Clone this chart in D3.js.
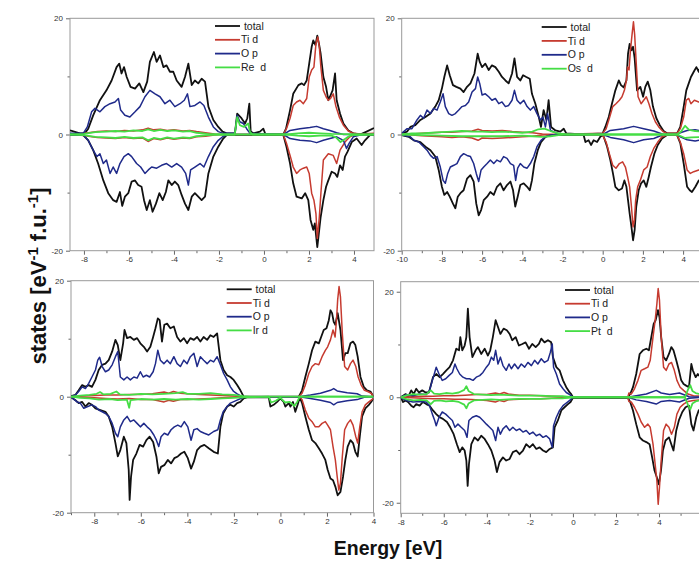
<!DOCTYPE html>
<html><head><meta charset="utf-8">
<script src="https://cdn.jsdelivr.net/npm/d3@7"></script>
<style>
body{margin:0;background:#fff}
svg{display:block;font-family:Arial,"Liberation Sans",sans-serif}
</style></head>
<body><svg id="c" width="699" height="575"></svg>
<script>
// ---------- DATA (energy eV, states) ----------
const seriesNames = [" total", "Ti d", "O p"];
const metalNames = ["Re  d", "Os  d", "Ir d", "Pt  d"];
const xTickLabelsP1 = [-8,-6,-4,-2,0,2,4];
const xTickLabelsP2 = [-10,-8,-6,-4,-2,0,2,4];
const xTickLabelsP3 = [-8,-6,-4,-2,0,2,4];
const xTickLabelsP4 = [-8,-6,-4,-2,0,2,4];
const yTickLabels = [-20,0,20];
const yMinorTicks = [-10,10];

// Panel 1 : Re
const re_total_up=[[-8.62,0.7],[-8.18,0.2],[-7.96,0.2],[-7.81,1.0],[-7.59,3.3],[-7.29,5.9],[-7.0,7.6],[-6.77,9.3],[-6.55,11.6],[-6.43,12.2],[-6.33,10.5],[-6.22,11.6],[-6.1,9.9],[-5.93,8.2],[-5.73,7.9],[-5.54,8.8],[-5.36,7.3],[-5.19,9.1],[-5.07,12.5],[-4.89,14.2],[-4.77,12.5],[-4.62,13.6],[-4.47,11.6],[-4.33,11.9],[-4.18,10.8],[-4.03,10.8],[-3.88,9.3],[-3.66,8.2],[-3.51,9.9],[-3.36,12.2],[-3.21,8.5],[-3.07,9.3],[-2.92,8.8],[-2.77,9.6],[-2.62,9.1],[-2.47,4.8],[-2.25,2.5],[-2.03,1.3],[-1.84,0.5],[-1.66,0.2],[-1.29,0.2],[-1.19,3.6],[-1.0,2.8],[-0.84,1.9],[-0.74,2.8],[-0.65,5.3],[-0.59,0.5],[-0.47,0.2],[-0.18,0.5],[-0.03,1.0],[0.07,0],[0.86,0],[0.98,1.0],[1.16,4.2],[1.3,7.0],[1.53,8.5],[1.68,8.8],[1.78,8.5],[1.9,9.3],[2.01,12.2],[2.12,15.1],[2.19,16.2],[2.29,15.4],[2.37,17.0],[2.45,15.5],[2.52,13.9],[2.64,9.9],[2.76,8.2],[2.86,5.9],[2.93,6.5],[3.05,7.6],[3.16,10.5],[3.23,5.9],[3.38,3.6],[3.53,1.9],[3.75,0.7],[3.97,0.2],[4.27,0],[4.56,0.5],[4.89,1.1]];
const re_total_dn=[[-8.62,-0.1],[-8.03,-0.1],[-7.81,-1.0],[-7.59,-2.7],[-7.37,-5.0],[-7.14,-7.9],[-6.92,-10.1],[-6.7,-11.3],[-6.55,-11.6],[-6.4,-9.9],[-6.3,-12.3],[-6.18,-10.7],[-6.03,-10.1],[-5.88,-8.1],[-5.73,-7.9],[-5.59,-8.7],[-5.44,-9.0],[-5.33,-11.3],[-5.21,-13.0],[-5.07,-11.3],[-4.95,-13.3],[-4.8,-11.9],[-4.65,-10.1],[-4.5,-11.3],[-4.36,-9.9],[-4.25,-7.9],[-4.1,-8.7],[-3.96,-8.1],[-3.81,-8.7],[-3.66,-10.4],[-3.51,-11.9],[-3.36,-13.0],[-3.21,-10.7],[-3.07,-10.1],[-2.92,-10.7],[-2.77,-11.3],[-2.62,-10.7],[-2.47,-6.7],[-2.25,-3.8],[-2.03,-2.1],[-1.81,-0.7],[-1.66,-0.1],[0.86,-0.1],[1.0,-2.1],[1.16,-5.0],[1.3,-8.4],[1.45,-10.7],[1.68,-11.0],[1.83,-10.1],[1.97,-11.3],[2.07,-14.7],[2.19,-16.4],[2.26,-15.3],[2.37,-19.4],[2.44,-17.0],[2.52,-14.2],[2.64,-11.3],[2.76,-9.0],[2.86,-7.9],[3.01,-6.4],[3.16,-6.7],[3.26,-7.3],[3.38,-5.3],[3.5,-6.1],[3.6,-3.8],[3.71,-3.0],[3.9,-1.3],[4.12,-0.7],[4.34,-1.8],[4.49,-1.0],[4.71,-0.1],[4.89,-0.1]];
const re_ti_up=[[-8.62,0],[-8.2,0.1],[-7.8,0.3],[-7.4,0.5],[-7.0,0.6],[-6.6,0.5],[-6.2,0.7],[-5.8,0.6],[-5.4,0.8],[-5.15,1.1],[-4.9,0.8],[-4.6,0.9],[-4.3,0.7],[-4.0,0.8],[-3.6,0.6],[-3.3,0.7],[-3.0,0.5],[-2.6,0.3],[-2.2,0.1],[-1.9,0],[0.86,0],[1.0,1.0],[1.16,2.8],[1.3,5.0],[1.45,5.6],[1.6,5.9],[1.75,5.3],[1.9,6.2],[2.01,9.9],[2.12,11.1],[2.22,11.6],[2.31,15.6],[2.39,16.8],[2.46,15.1],[2.53,11.6],[2.64,7.6],[2.76,6.5],[2.86,5.9],[2.96,6.2],[3.08,7.0],[3.2,4.8],[3.35,3.0],[3.53,1.6],[3.75,0.6],[3.97,0.2],[4.3,0.1],[4.89,0.2]];
const re_ti_dn=[[-8.62,0],[-8.2,-0.1],[-7.8,-0.3],[-7.4,-0.5],[-7.0,-0.6],[-6.6,-0.7],[-6.2,-0.5],[-5.8,-0.7],[-5.4,-0.6],[-5.15,-1.2],[-4.9,-0.7],[-4.6,-0.9],[-4.3,-0.6],[-4.0,-0.8],[-3.6,-0.6],[-3.3,-0.7],[-3.0,-0.4],[-2.6,-0.3],[-2.2,-0.1],[-1.9,0],[0.86,0],[1.0,-1.5],[1.16,-3.6],[1.3,-5.6],[1.45,-6.7],[1.6,-6.1],[1.75,-5.8],[1.9,-5.6],[2.01,-6.7],[2.12,-10.1],[2.22,-11.3],[2.31,-13.6],[2.37,-17.9],[2.46,-14.2],[2.53,-10.1],[2.64,-4.4],[2.86,-3.3],[3.08,-3.6],[3.23,-5.0],[3.38,-2.7],[3.6,-1.3],[3.82,-0.4],[4.0,-0.1],[4.89,0]];
const re_op_up=[[-8.62,0.2],[-8.03,0.2],[-7.85,1.3],[-7.66,3.9],[-7.51,4.5],[-7.29,3.9],[-7.07,4.8],[-6.84,5.3],[-6.62,5.6],[-6.47,6.2],[-6.37,4.2],[-6.18,3.3],[-5.96,3.0],[-5.73,3.9],[-5.51,4.8],[-5.29,6.5],[-5.07,7.6],[-4.84,7.0],[-4.62,6.5],[-4.4,5.3],[-4.18,5.9],[-3.96,4.8],[-3.73,5.3],[-3.54,5.9],[-3.4,7.0],[-3.29,4.8],[-3.07,5.0],[-2.84,5.6],[-2.67,5.0],[-2.47,3.0],[-2.25,1.3],[-2.03,0.5],[-1.81,0.2],[-1.29,0.2],[-1.19,3.3],[-1.07,2.2],[-0.92,1.9],[-0.77,1.0],[-0.62,0.2],[0.86,0],[1.16,0.7],[1.6,1.0],[2.04,1.2],[2.34,1.4],[2.64,1.0],[2.93,0.7],[3.23,0.3],[3.53,0],[4.89,0]];
const re_op_dn=[[-8.62,-0.1],[-8.03,-0.1],[-7.81,-1.0],[-7.59,-2.7],[-7.42,-3.8],[-7.29,-3.3],[-7.14,-5.0],[-7.0,-4.4],[-6.84,-6.7],[-6.7,-5.6],[-6.55,-6.7],[-6.4,-5.0],[-6.22,-3.8],[-6.03,-3.3],[-5.88,-3.8],[-5.66,-5.0],[-5.48,-5.6],[-5.29,-6.7],[-5.14,-6.1],[-4.99,-5.6],[-4.77,-5.8],[-4.55,-5.3],[-4.33,-5.0],[-4.1,-5.6],[-3.88,-5.0],[-3.66,-5.6],[-3.48,-6.7],[-3.36,-8.7],[-3.26,-6.1],[-3.07,-5.6],[-2.84,-5.0],[-2.67,-5.6],[-2.47,-3.8],[-2.25,-2.1],[-2.03,-1.0],[-1.81,-0.3],[-1.6,0],[0.86,0],[1.16,-0.7],[1.6,-1.0],[2.04,-1.1],[2.34,-1.4],[2.64,-1.0],[2.93,-0.7],[3.23,-0.4],[3.53,-1.0],[3.67,-2.4],[3.79,-1.5],[3.97,-0.4],[4.27,-0.1],[4.89,0]];
const re_m_up=[[-8.62,0],[-8.0,0.1],[-7.5,0.4],[-7.0,0.5],[-6.6,0.6],[-6.2,0.5],[-5.8,0.7],[-5.4,0.6],[-5.15,0.9],[-4.9,0.6],[-4.6,0.8],[-4.3,0.6],[-4.0,0.7],[-3.6,0.5],[-3.3,0.6],[-3.0,0.3],[-2.5,0.1],[-2.0,0],[-1.3,0],[-1.19,3.0],[-1.07,1.6],[-0.89,1.3],[-0.7,1.9],[-0.62,0.4],[-0.5,0],[1.0,0],[1.5,0.2],[2.0,0.3],[2.5,0.2],[3.0,0.1],[4.89,0]];
const re_m_dn=[[-8.62,0],[-8.0,-0.1],[-7.5,-0.4],[-7.0,-0.5],[-6.6,-0.6],[-6.2,-0.4],[-5.8,-0.6],[-5.4,-0.5],[-5.15,-1.0],[-4.9,-0.6],[-4.6,-0.8],[-4.3,-0.5],[-4.0,-0.7],[-3.6,-0.5],[-3.3,-0.6],[-3.0,-0.3],[-2.5,-0.1],[-2.0,0],[1.0,0],[1.5,-0.2],[2.0,-0.3],[2.5,-0.2],[3.0,-0.2],[3.2,-0.5],[3.4,-1.3],[3.55,-0.9],[3.7,-0.5],[3.9,-0.1],[4.89,0]];

// Panel 2 : Os
const os_total_up=[[-10,0.2],[-9.73,0.5],[-9.57,1.3],[-9.32,1.6],[-9.07,2.5],[-8.82,3.0],[-8.57,3.6],[-8.33,4.8],[-8.16,5.9],[-8.0,7.9],[-7.88,9.9],[-7.74,11.9],[-7.61,10.2],[-7.45,8.5],[-7.28,8.2],[-7.08,7.9],[-6.92,7.3],[-6.75,8.2],[-6.58,8.8],[-6.38,10.5],[-6.22,13.9],[-6.12,12.5],[-6.0,11.6],[-5.84,12.2],[-5.67,11.1],[-5.51,11.9],[-5.34,11.6],[-5.17,10.8],[-5.01,9.9],[-4.84,9.3],[-4.68,8.8],[-4.51,10.5],[-4.39,13.1],[-4.26,9.9],[-4.1,9.3],[-3.96,10.2],[-3.8,9.9],[-3.63,9.6],[-3.52,7.0],[-3.35,5.3],[-3.18,3.0],[-3.07,1.3],[-2.94,4.2],[-2.8,2.5],[-2.69,5.9],[-2.57,1.3],[-2.35,0.7],[-2.11,0.5],[-1.94,1.0],[-1.81,0.2],[-1.0,0],[0,0.2],[0.13,1.3],[0.3,3.0],[0.46,5.3],[0.63,7.6],[0.8,9.3],[0.91,8.5],[1.04,8.1],[1.18,9.3],[1.26,13.9],[1.34,15.6],[1.43,14.5],[1.51,15.1],[1.59,13.1],[1.71,7.6],[1.87,8.2],[2.01,6.5],[2.12,8.2],[2.24,9.1],[2.37,7.6],[2.5,4.8],[2.67,2.8],[2.84,1.6],[3.03,0.6],[3.2,0.2],[3.7,0.2],[3.86,1.3],[4.03,4.8],[4.16,7.6],[4.28,8.8],[4.39,9.9],[4.53,10.8],[4.66,11.6],[4.78,10.8],[4.86,11.6],[5.0,11.0]];
const os_total_dn=[[-10,-0.1],[-9.65,-0.4],[-9.4,-1.0],[-9.07,-1.3],[-8.82,-2.1],[-8.57,-2.7],[-8.33,-3.8],[-8.16,-6.1],[-8.0,-9.0],[-7.88,-10.4],[-7.74,-9.9],[-7.61,-10.7],[-7.45,-11.9],[-7.33,-12.7],[-7.21,-10.7],[-7.08,-10.1],[-6.92,-9.6],[-6.75,-7.6],[-6.58,-7.0],[-6.42,-8.1],[-6.29,-11.9],[-6.17,-13.9],[-6.05,-13.0],[-5.92,-11.3],[-5.75,-10.7],[-5.59,-9.9],[-5.42,-10.4],[-5.26,-9.0],[-5.09,-8.4],[-4.93,-9.6],[-4.76,-8.7],[-4.59,-8.1],[-4.46,-9.6],[-4.35,-12.4],[-4.23,-10.7],[-4.1,-8.7],[-3.93,-8.4],[-3.76,-9.0],[-3.63,-9.6],[-3.52,-7.9],[-3.4,-5.0],[-3.23,-2.7],[-3.07,-1.3],[-2.85,-0.4],[-2.6,-0.1],[-0.95,-0.1],[-0.86,-1.3],[-0.7,-1.0],[-0.58,-1.8],[-0.45,-1.0],[-0.28,-1.3],[-0.12,-0.4],[0,-0.1],[0.05,-0.4],[0.22,-2.1],[0.38,-4.4],[0.51,-6.7],[0.63,-9.0],[0.8,-9.6],[0.96,-9.3],[1.08,-7.9],[1.18,-9.0],[1.26,-11.3],[1.34,-13.6],[1.43,-15.9],[1.51,-18.2],[1.59,-16.4],[1.67,-12.4],[1.79,-9.6],[1.91,-8.4],[2.04,-7.9],[2.17,-9.0],[2.29,-7.3],[2.4,-5.6],[2.57,-3.3],[2.74,-1.8],[2.95,-0.7],[3.2,-0.1],[3.7,-0.1],[3.86,-1.5],[4.03,-5.0],[4.2,-9.0],[4.33,-9.6],[4.44,-9.9],[4.61,-9.0],[4.78,-7.9],[5.0,-8.0]];
const os_ti_up=[[-10,0],[-9.5,0.1],[-9.0,0.2],[-8.5,0.3],[-8.0,0.4],[-7.5,0.4],[-7.0,0.5],[-6.5,0.6],[-6.2,0.9],[-6.0,0.7],[-5.5,0.6],[-5.0,0.7],[-4.5,0.5],[-4.0,0.4],[-3.5,0.3],[-3.0,0.1],[-2.5,0],[0,0.2],[0.17,1.0],[0.33,2.8],[0.5,4.8],[0.66,5.3],[0.83,5.9],[0.96,6.5],[1.08,7.6],[1.18,9.3],[1.24,11.6],[1.31,11.1],[1.38,14.5],[1.46,17.2],[1.53,19.4],[1.59,17.2],[1.66,12.8],[1.76,6.5],[1.91,5.3],[2.04,5.9],[2.17,6.5],[2.3,5.3],[2.45,3.6],[2.62,2.2],[2.79,1.3],[3.0,0.5],[3.2,0.2],[3.7,0.2],[3.86,1.0],[4.03,3.0],[4.16,5.9],[4.28,6.2],[4.39,5.3],[4.56,5.9],[4.78,5.6],[5.0,5.5]];
const os_ti_dn=[[-10,0],[-9.5,-0.1],[-9.0,-0.2],[-8.5,-0.3],[-8.0,-0.4],[-7.5,-0.5],[-7.0,-0.4],[-6.5,-0.6],[-6.2,-1.0],[-6.0,-0.6],[-5.5,-0.7],[-5.0,-0.6],[-4.5,-0.5],[-4.0,-0.4],[-3.5,-0.3],[-3.0,-0.1],[-2.5,0],[0,-0.1],[0.17,-1.3],[0.33,-3.3],[0.5,-5.3],[0.66,-5.8],[0.83,-5.0],[0.99,-4.7],[1.13,-5.6],[1.24,-7.3],[1.34,-9.0],[1.43,-12.4],[1.51,-15.9],[1.58,-14.7],[1.64,-11.3],[1.74,-9.0],[1.87,-7.9],[2.04,-6.1],[2.21,-5.6],[2.37,-3.8],[2.54,-2.4],[2.74,-1.3],[2.95,-0.4],[3.2,-0.1],[3.7,-0.1],[3.86,-1.3],[4.03,-3.3],[4.2,-6.1],[4.36,-6.7],[4.53,-6.4],[4.78,-6.1],[5.0,-6.0]];
const os_op_up=[[-10,0.2],[-9.73,1.0],[-9.49,1.0],[-9.24,2.5],[-9.07,3.3],[-8.91,2.8],[-8.74,4.2],[-8.57,3.6],[-8.41,4.5],[-8.24,4.2],[-8.08,5.6],[-7.94,7.0],[-7.83,4.8],[-7.66,3.6],[-7.5,3.3],[-7.33,3.6],[-7.16,4.2],[-7.0,4.8],[-6.83,5.0],[-6.67,5.6],[-6.5,7.3],[-6.33,7.9],[-6.22,9.9],[-6.12,8.8],[-6.0,6.8],[-5.84,7.0],[-5.67,6.5],[-5.51,5.9],[-5.34,6.2],[-5.17,5.3],[-5.01,5.6],[-4.84,4.8],[-4.68,5.0],[-4.51,5.9],[-4.39,7.6],[-4.26,5.9],[-4.1,5.3],[-3.93,5.9],[-3.76,4.8],[-3.6,4.2],[-3.43,4.8],[-3.27,3.6],[-3.1,2.5],[-2.97,3.0],[-2.85,1.3],[-2.74,3.6],[-2.6,0.7],[-2.35,0.3],[-2.0,0],[0,0],[0.38,0.7],[1.04,1.0],[1.54,1.4],[2.04,1.0],[2.54,0.6],[3.03,0],[3.7,0],[3.86,0.3],[4.2,0.7],[4.6,0.8],[5.0,0.6]];
const os_op_dn=[[-10,-0.1],[-9.57,-0.4],[-9.4,-1.0],[-9.15,-1.3],[-8.91,-2.1],[-8.74,-2.7],[-8.57,-3.6],[-8.41,-4.1],[-8.24,-3.8],[-8.08,-5.6],[-7.94,-7.9],[-7.83,-8.4],[-7.71,-6.7],[-7.58,-5.6],[-7.41,-5.3],[-7.25,-5.0],[-7.08,-3.8],[-6.92,-3.3],[-6.75,-3.6],[-6.58,-3.8],[-6.42,-5.0],[-6.29,-6.7],[-6.17,-8.1],[-6.05,-6.1],[-5.92,-5.6],[-5.75,-5.0],[-5.59,-4.4],[-5.42,-5.0],[-5.26,-4.4],[-5.09,-4.7],[-4.93,-3.8],[-4.76,-4.1],[-4.59,-5.0],[-4.43,-5.3],[-4.33,-7.9],[-4.23,-5.8],[-4.1,-5.0],[-3.93,-5.6],[-3.76,-5.8],[-3.6,-5.0],[-3.43,-3.8],[-3.27,-2.1],[-3.07,-1.0],[-2.85,-0.4],[-2.6,-0.1],[-2.0,0],[0,0],[0.38,-0.5],[1.04,-0.9],[1.54,-1.4],[2.04,-0.9],[2.54,-0.7],[3.03,0],[3.7,0],[3.86,-0.4],[4.2,-0.9],[4.6,-1.1],[5.0,-0.9]];
const os_m_up=[[-10,0],[-9.5,0.2],[-9.0,0.2],[-8.5,0.3],[-8.0,0.4],[-7.5,0.5],[-7.0,0.6],[-6.5,0.5],[-6.0,0.5],[-5.5,0.4],[-5.0,0.5],[-4.5,0.4],[-4.0,0.3],[-3.5,0.5],[-3.2,0.9],[-2.9,1.0],[-2.6,0.6],[-2.2,0.2],[-1.8,0],[3.7,0],[3.9,0.5],[4.1,1.5],[4.3,0.8],[4.6,0.6],[5.0,0.5]];
const os_m_dn=[[-10,0],[-9.0,-0.1],[-8.0,-0.2],[-7.0,-0.3],[-6.0,-0.3],[-5.0,-0.3],[-4.0,-0.2],[-3.5,-0.3],[-3.0,-0.4],[-2.6,-0.3],[-2.2,-0.1],[-1.8,0],[3.7,0],[3.9,-0.3],[4.1,-0.6],[4.4,-0.5],[5.0,-0.4]];

// Panel 3 : Ir
const ir_total_up=[[-9,0.1],[-8.81,0.3],[-8.67,1.1],[-8.52,2.0],[-8.38,1.7],[-8.24,2.0],[-8.1,1.7],[-7.95,2.9],[-7.81,4.6],[-7.66,5.5],[-7.52,5.7],[-7.38,6.3],[-7.23,7.8],[-7.09,9.8],[-6.99,8.9],[-6.88,6.3],[-6.76,9.2],[-6.7,11.5],[-6.59,10.1],[-6.45,10.3],[-6.3,9.8],[-6.16,10.1],[-6.02,9.2],[-5.87,8.6],[-5.73,7.8],[-5.59,8.6],[-5.47,10.3],[-5.37,11.8],[-5.27,13.5],[-5.19,13.2],[-5.09,9.5],[-4.99,12.4],[-4.87,12.6],[-4.73,11.8],[-4.58,12.1],[-4.44,10.3],[-4.3,9.5],[-4.15,10.1],[-4.01,9.2],[-3.87,10.1],[-3.72,9.8],[-3.58,10.3],[-3.44,9.5],[-3.3,10.3],[-3.15,9.8],[-3.01,10.6],[-2.87,10.3],[-2.72,10.9],[-2.65,8.6],[-2.58,6.3],[-2.44,4.6],[-2.29,3.7],[-2.15,3.4],[-2.01,2.9],[-1.86,2.0],[-1.72,1.1],[-1.58,0],[0.79,0],[0.93,1.1],[1.07,3.4],[1.22,5.7],[1.36,8.0],[1.5,9.5],[1.65,9.2],[1.75,10.3],[1.86,11.5],[1.98,11.8],[2.08,13.2],[2.15,14.9],[2.22,14.4],[2.29,12.9],[2.36,12.4],[2.46,14.4],[2.58,11.5],[2.69,6.3],[2.79,7.5],[2.89,7.5],[3.01,9.2],[3.12,9.5],[3.22,8.9],[3.32,6.9],[3.44,3.4],[3.58,1.7],[3.72,1.1],[3.87,0.9],[4.0,0]];
const ir_total_dn=[[-9,-0.1],[-8.81,-0.6],[-8.67,-1.1],[-8.52,-0.9],[-8.38,-1.7],[-8.24,-1.1],[-8.1,-1.4],[-7.95,-2.0],[-7.74,-2.3],[-7.52,-2.6],[-7.38,-3.4],[-7.23,-5.2],[-7.09,-8.0],[-6.99,-10.3],[-6.88,-9.2],[-6.73,-6.9],[-6.62,-8.0],[-6.52,-12.6],[-6.48,-17.8],[-6.42,-13.8],[-6.33,-10.9],[-6.19,-9.8],[-6.05,-8.3],[-5.9,-8.6],[-5.76,-7.5],[-5.62,-6.9],[-5.47,-7.8],[-5.33,-10.3],[-5.23,-13.2],[-5.13,-12.1],[-4.99,-11.8],[-4.84,-10.9],[-4.7,-11.5],[-4.56,-10.6],[-4.41,-10.3],[-4.27,-9.8],[-4.13,-9.5],[-3.98,-10.6],[-3.84,-12.4],[-3.72,-11.2],[-3.58,-9.2],[-3.44,-8.6],[-3.27,-8.3],[-3.08,-8.9],[-2.87,-9.5],[-2.69,-9.8],[-2.58,-5.2],[-2.46,-2.9],[-2.29,-1.7],[-2.15,-1.4],[-2.01,-1.7],[-1.86,-1.1],[-1.72,-0.9],[-1.58,-0.3],[-1.44,-0.1],[-0.5,-0.1],[-0.43,-1.7],[-0.29,-1.4],[-0.14,-0.9],[0,-0.3],[0.14,-0.9],[0.21,-1.7],[0.36,-1.1],[0.43,-1.7],[0.54,-0.9],[0.64,-2.6],[0.74,-1.4],[0.83,-0.1],[0.93,-1.1],[1.07,-3.4],[1.22,-5.7],[1.36,-7.5],[1.5,-8.0],[1.65,-8.9],[1.79,-9.8],[1.93,-10.9],[2.03,-12.6],[2.15,-14.1],[2.26,-14.4],[2.36,-15.5],[2.46,-17.0],[2.58,-16.4],[2.69,-13.8],[2.79,-10.9],[2.89,-8.6],[3.01,-7.5],[3.12,-8.0],[3.22,-9.5],[3.32,-10.3],[3.41,-6.9],[3.51,-3.4],[3.65,-2.0],[3.8,-1.4],[3.9,-0.9],[4.0,-0.3]];
const ir_ti_up=[[-9,0],[-8.5,0.1],[-8.0,0.2],[-7.5,0.3],[-7.0,0.3],[-6.5,0.4],[-6.0,0.4],[-5.5,0.5],[-5.0,0.8],[-4.8,0.6],[-4.6,0.9],[-4.3,0.6],[-4.0,0.5],[-3.5,0.4],[-3.0,0.3],[-2.5,0.2],[-2.0,0.1],[-1.6,0],[0.79,0],[0.93,0.6],[1.07,2.0],[1.22,4.0],[1.36,5.2],[1.5,5.7],[1.65,5.5],[1.79,6.9],[1.93,8.0],[2.03,8.6],[2.15,9.8],[2.26,11.5],[2.35,10.3],[2.41,13.2],[2.46,16.7],[2.52,19.0],[2.58,17.2],[2.66,10.9],[2.76,5.2],[2.89,4.6],[3.01,5.7],[3.12,6.3],[3.24,5.2],[3.34,3.4],[3.47,2.0],[3.61,1.1],[3.75,0.9],[3.9,0.6],[4.0,0]];
const ir_ti_dn=[[-9,0],[-8.5,-0.1],[-8.0,-0.2],[-7.5,-0.3],[-7.0,-0.4],[-6.5,-0.3],[-6.0,-0.5],[-5.5,-0.5],[-5.0,-0.9],[-4.8,-0.6],[-4.6,-0.8],[-4.3,-0.5],[-4.0,-0.5],[-3.5,-0.4],[-3.0,-0.3],[-2.5,-0.2],[-2.0,-0.1],[-1.6,0],[0.83,0],[0.93,-0.5],[1.07,-2.3],[1.22,-3.7],[1.36,-4.3],[1.5,-5.2],[1.65,-5.2],[1.79,-4.6],[1.93,-4.3],[2.03,-4.9],[2.15,-5.7],[2.26,-8.6],[2.36,-10.9],[2.44,-13.8],[2.51,-16.1],[2.58,-14.9],[2.66,-10.3],[2.76,-5.7],[2.89,-4.6],[3.01,-4.0],[3.12,-4.9],[3.24,-6.9],[3.32,-8.0],[3.41,-5.2],[3.51,-2.6],[3.65,-1.4],[3.8,-0.9],[4.0,-0.3]];
const ir_op_up=[[-9,0],[-8.81,0.3],[-8.67,0.9],[-8.52,1.7],[-8.38,1.4],[-8.24,2.3],[-8.1,3.4],[-7.95,4.6],[-7.85,6.3],[-7.77,6.8],[-7.66,5.2],[-7.52,4.3],[-7.38,4.6],[-7.23,5.5],[-7.09,6.9],[-6.99,7.8],[-6.88,3.4],[-6.73,2.9],[-6.59,3.4],[-6.45,2.9],[-6.3,3.4],[-6.16,3.2],[-6.02,4.3],[-5.9,3.4],[-5.76,3.7],[-5.62,3.4],[-5.47,4.3],[-5.37,5.7],[-5.27,8.0],[-5.16,6.3],[-5.01,5.7],[-4.87,6.3],[-4.73,5.7],[-4.58,6.9],[-4.44,5.7],[-4.3,5.2],[-4.15,6.3],[-4.01,5.7],[-3.87,6.9],[-3.72,7.5],[-3.58,5.2],[-3.44,6.9],[-3.3,6.3],[-3.15,5.7],[-3.01,6.3],[-2.87,6.0],[-2.72,6.9],[-2.58,5.5],[-2.44,4.0],[-2.29,2.9],[-2.15,1.7],[-2.01,0.9],[-1.86,0.5],[-1.65,0],[0.79,0],[1.29,0.3],[1.72,0.6],[2.15,1.1],[2.29,1.4],[2.44,1.0],[2.87,0.7],[3.3,0.5],[3.51,0.1],[4.0,0]];
const ir_op_dn=[[-9,0],[-8.74,-0.9],[-8.6,-1.1],[-8.45,-2.0],[-8.28,-1.7],[-8.1,-1.4],[-7.95,-1.7],[-7.81,-2.3],[-7.66,-2.6],[-7.52,-2.9],[-7.38,-3.4],[-7.23,-4.6],[-7.09,-6.3],[-6.99,-6.9],[-6.88,-5.2],[-6.73,-4.0],[-6.59,-3.4],[-6.45,-4.3],[-6.3,-4.0],[-6.16,-4.6],[-6.02,-5.2],[-5.87,-4.6],[-5.73,-5.2],[-5.59,-5.7],[-5.44,-6.6],[-5.33,-7.5],[-5.23,-8.6],[-5.13,-6.9],[-4.99,-6.3],[-4.84,-6.6],[-4.7,-5.7],[-4.56,-5.2],[-4.41,-4.9],[-4.27,-5.2],[-4.13,-4.3],[-3.98,-5.2],[-3.84,-7.5],[-3.72,-5.7],[-3.58,-5.5],[-3.44,-6.0],[-3.27,-6.3],[-3.08,-6.6],[-2.87,-6.0],[-2.69,-5.7],[-2.58,-4.0],[-2.46,-2.6],[-2.29,-1.7],[-2.15,-1.1],[-1.86,-0.6],[-1.58,-0.1],[-1.4,0],[0.83,0],[1.29,-0.3],[1.72,-0.6],[2.15,-1.0],[2.29,-1.4],[2.44,-1.0],[2.87,-0.7],[3.3,-0.5],[3.6,-0.1],[4.0,0]];
const ir_m_up=[[-9,0],[-8.6,0.2],[-8.2,0.3],[-7.9,0.5],[-7.75,0.8],[-7.6,0.4],[-7.3,0.5],[-7.05,0.9],[-6.9,0.4],[-6.5,0.3],[-6.0,0.5],[-5.5,0.4],[-5.0,0.5],[-4.5,0.6],[-4.2,0.8],[-4.0,0.5],[-3.5,0.5],[-3.0,0.6],[-2.5,0.4],[-2.0,0.3],[-1.6,0.1],[-1.3,0],[4.0,0]];
const ir_m_dn=[[-9,0],[-8.6,-0.2],[-8.2,-0.3],[-7.8,-0.5],[-7.3,-0.4],[-7.0,-0.6],[-6.6,-0.5],[-6.5,-1.9],[-6.44,-0.6],[-6.0,-0.4],[-5.5,-0.5],[-5.0,-0.4],[-4.5,-0.5],[-4.0,-0.4],[-3.5,-0.5],[-3.0,-0.4],[-2.5,-0.3],[-2.0,-0.2],[-1.6,-0.1],[-0.5,0],[-0.4,-1.0],[-0.2,-0.7],[0,-0.2],[0.2,-1.0],[0.4,-0.9],[0.6,-1.6],[0.72,-0.9],[0.83,0],[4.0,0]];

// Panel 4 : Pt
const pt_total_up=[[-8,0],[-7.89,0.3],[-7.77,0.6],[-7.66,0],[-7.51,1.3],[-7.4,0.6],[-7.28,1.6],[-7.15,0.9],[-7.0,1.3],[-6.84,0.9],[-6.69,0.9],[-6.5,3.8],[-6.35,4.4],[-6.19,3.8],[-6.04,4.4],[-5.88,5.1],[-5.73,5.7],[-5.57,7.0],[-5.42,9.2],[-5.29,8.9],[-5.23,11.4],[-5.14,8.9],[-5.03,9.8],[-4.95,11.4],[-4.88,16.8],[-4.8,11.4],[-4.67,7.6],[-4.52,8.9],[-4.41,9.5],[-4.26,8.2],[-4.1,9.2],[-3.95,7.9],[-3.84,8.9],[-3.72,11.4],[-3.59,14.6],[-3.48,13.3],[-3.37,12.0],[-3.22,13.0],[-3.07,12.7],[-2.94,12.0],[-2.82,10.8],[-2.66,11.4],[-2.51,9.8],[-2.35,10.1],[-2.2,10.4],[-2.04,9.2],[-1.89,10.1],[-1.73,9.5],[-1.58,10.1],[-1.47,11.1],[-1.32,10.4],[-1.16,10.8],[-1.01,10.4],[-0.93,7.6],[-0.77,5.7],[-0.62,5.1],[-0.46,3.2],[-0.31,1.9],[-0.15,0.9],[-0.08,0.6],[0,0],[2.55,0],[2.66,0.6],[2.79,1.9],[2.94,4.4],[3.1,8.2],[3.25,8.9],[3.41,9.2],[3.53,8.9],[3.64,11.4],[3.75,13.9],[3.84,14.6],[3.95,16.5],[4.02,15.2],[4.1,11.4],[4.21,7.6],[4.33,7.0],[4.46,8.2],[4.57,9.5],[4.67,8.9],[4.8,7.0],[4.92,5.1],[5.03,3.2],[5.14,2.5],[5.26,2.2],[5.39,1.9],[5.5,6.3],[5.57,5.1],[5.7,3.8],[5.8,4.4],[6.0,3.5]];
const pt_total_dn=[[-8,0],[-7.89,-0.9],[-7.77,-0.6],[-7.66,-0.9],[-7.51,-1.6],[-7.4,-1.9],[-7.28,-1.3],[-7.12,-1.6],[-6.97,-0.9],[-6.81,-1.3],[-6.66,-1.6],[-6.5,-2.5],[-6.35,-3.2],[-6.19,-3.8],[-6.04,-4.1],[-5.85,-4.7],[-5.7,-5.7],[-5.54,-7.0],[-5.39,-8.9],[-5.26,-10.4],[-5.14,-9.5],[-5.03,-10.1],[-4.95,-12.0],[-4.89,-16.8],[-4.83,-12.7],[-4.72,-8.9],[-4.57,-7.6],[-4.41,-8.2],[-4.26,-7.3],[-4.1,-7.9],[-3.95,-8.9],[-3.79,-10.1],[-3.64,-12.0],[-3.53,-14.2],[-3.41,-12.3],[-3.25,-11.4],[-3.1,-12.0],[-2.94,-11.7],[-2.79,-10.4],[-2.63,-10.1],[-2.48,-10.8],[-2.32,-10.1],[-2.17,-8.9],[-2.01,-9.5],[-1.86,-8.9],[-1.7,-9.8],[-1.55,-9.5],[-1.39,-10.1],[-1.24,-10.4],[-1.08,-9.8],[-0.93,-9.5],[-0.85,-5.7],[-0.7,-4.4],[-0.54,-2.5],[-0.39,-1.9],[-0.23,-1.3],[-0.11,-0.9],[0,-0.1],[2.55,-0.1],[2.66,-0.9],[2.79,-2.5],[2.94,-5.1],[3.1,-7.6],[3.25,-8.2],[3.41,-8.5],[3.56,-8.9],[3.68,-11.4],[3.79,-13.9],[3.9,-15.2],[3.99,-16.5],[4.09,-13.9],[4.18,-10.1],[4.3,-8.2],[4.46,-7.6],[4.57,-8.9],[4.67,-10.1],[4.8,-6.3],[4.92,-4.4],[5.08,-2.8],[5.23,-1.9],[5.39,-1.6],[5.5,-5.1],[5.6,-6.3],[5.73,-3.8],[5.84,-2.5],[6.0,-2.0]];
const pt_ti_up=[[-8,0],[-7.5,0.1],[-7.0,0.2],[-6.5,0.2],[-6.0,0.3],[-5.5,0.3],[-5.0,0.4],[-4.5,0.5],[-4.0,0.5],[-3.6,0.8],[-3.4,0.6],[-3.2,0.9],[-3.0,0.6],[-2.5,0.4],[-2.0,0.4],[-1.5,0.3],[-1.0,0.2],[-0.5,0.1],[0,0],[2.55,0],[2.6,0.8],[2.71,0.6],[2.86,1.6],[3.02,3.2],[3.17,5.1],[3.33,5.4],[3.48,5.7],[3.59,7.0],[3.72,11.4],[3.82,14.6],[3.9,17.7],[3.96,20.6],[4.02,18.4],[4.1,11.4],[4.21,5.7],[4.33,5.1],[4.46,6.3],[4.58,6.6],[4.71,5.1],[4.83,3.2],[4.98,1.9],[5.14,1.3],[5.34,0.6],[5.6,0.3],[6.0,0.2]];
const pt_ti_dn=[[-8,0],[-7.5,-0.1],[-7.0,-0.2],[-6.5,-0.3],[-6.0,-0.3],[-5.5,-0.4],[-5.0,-0.4],[-4.5,-0.5],[-4.0,-0.6],[-3.6,-0.9],[-3.4,-0.6],[-3.2,-0.8],[-3.0,-0.5],[-2.5,-0.4],[-2.0,-0.3],[-1.5,-0.3],[-1.0,-0.2],[-0.5,-0.1],[0,0],[2.55,0],[2.6,-0.8],[2.71,-0.9],[2.86,-1.9],[3.02,-3.2],[3.17,-4.7],[3.33,-5.7],[3.48,-5.1],[3.59,-5.7],[3.72,-8.9],[3.82,-12.7],[3.9,-15.8],[3.96,-20.3],[4.02,-17.1],[4.1,-12.0],[4.21,-6.3],[4.33,-5.1],[4.46,-5.7],[4.58,-7.0],[4.71,-5.7],[4.83,-3.2],[4.98,-1.9],[5.14,-1.3],[5.34,-0.8],[5.6,-0.6],[6.0,-0.5]];
const pt_op_up=[[-8,0],[-7.74,0.5],[-7.43,0.3],[-7.12,0.6],[-6.81,0.5],[-6.66,1.3],[-6.53,3.2],[-6.42,4.7],[-6.35,5.7],[-6.22,4.4],[-6.07,3.2],[-5.91,3.5],[-5.76,4.1],[-5.6,4.7],[-5.48,6.3],[-5.39,5.4],[-5.26,4.4],[-5.11,3.8],[-4.95,3.5],[-4.8,3.5],[-4.64,3.2],[-4.49,3.8],[-4.33,4.1],[-4.18,4.7],[-4.02,5.7],[-3.9,6.3],[-3.79,7.6],[-3.68,7.0],[-3.59,8.9],[-3.48,6.3],[-3.37,7.6],[-3.25,6.0],[-3.1,5.1],[-2.97,6.3],[-2.86,5.4],[-2.71,6.3],[-2.55,5.4],[-2.4,6.3],[-2.24,5.7],[-2.09,6.6],[-1.93,6.0],[-1.78,7.0],[-1.63,6.3],[-1.47,7.3],[-1.32,6.6],[-1.16,7.0],[-1.05,8.5],[-0.96,10.1],[-0.9,5.7],[-0.77,4.4],[-0.62,2.5],[-0.46,1.6],[-0.31,0.9],[-0.15,0.5],[0,0],[2.55,0],[2.94,0.3],[3.41,0.6],[3.87,1.3],[4.1,0.8],[4.49,0.5],[4.95,0.8],[5.4,0.1],[6.0,0]];
const pt_op_dn=[[-8,-0.1],[-7.74,-0.6],[-7.43,-0.9],[-7.12,-0.8],[-6.81,-0.9],[-6.66,-1.6],[-6.53,-3.2],[-6.42,-4.4],[-6.35,-5.4],[-6.22,-3.8],[-6.07,-2.8],[-5.91,-3.2],[-5.76,-3.8],[-5.6,-4.4],[-5.48,-5.7],[-5.34,-5.1],[-5.19,-5.7],[-5.03,-6.3],[-4.92,-7.6],[-4.83,-4.4],[-4.67,-3.8],[-4.49,-3.5],[-4.33,-3.8],[-4.18,-4.4],[-4.02,-5.1],[-3.87,-5.7],[-3.72,-6.3],[-3.59,-8.2],[-3.48,-5.7],[-3.37,-7.0],[-3.25,-6.0],[-3.1,-5.4],[-2.94,-6.3],[-2.79,-5.7],[-2.63,-6.3],[-2.48,-6.0],[-2.32,-6.6],[-2.17,-6.3],[-2.01,-7.0],[-1.86,-6.6],[-1.7,-7.3],[-1.55,-7.0],[-1.39,-7.6],[-1.24,-7.3],[-1.08,-7.9],[-0.96,-9.5],[-0.9,-5.4],[-0.77,-3.8],[-0.62,-2.5],[-0.46,-1.6],[-0.31,-1.1],[-0.15,-0.6],[0,0],[2.55,0],[2.94,-0.5],[3.41,-0.8],[3.87,-1.3],[4.1,-0.8],[4.49,-0.6],[4.95,-0.9],[5.4,-0.2],[6.0,0]];
const pt_m_up=[[-8,0],[-7.7,0.4],[-7.4,0.6],[-7.1,0.5],[-6.8,0.6],[-6.6,1.3],[-6.45,0.7],[-6.2,0.6],[-5.9,0.8],[-5.6,0.7],[-5.3,0.9],[-5.05,1.4],[-4.95,2.1],[-4.85,1.2],[-4.6,0.6],[-4.2,0.5],[-3.8,0.4],[-3.4,0.5],[-3.0,0.4],[-2.5,0.3],[-2.0,0.3],[-1.5,0.3],[-1.0,0.2],[-0.5,0.2],[0,0],[5.2,0],[5.35,1.5],[5.45,2.3],[5.55,1.2],[5.7,0.8],[6.0,0.5]];
const pt_m_dn=[[-8,0],[-7.7,-0.4],[-7.4,-0.6],[-7.1,-0.5],[-6.8,-0.6],[-6.6,-1.3],[-6.45,-0.7],[-6.2,-0.6],[-5.9,-0.8],[-5.6,-0.7],[-5.3,-0.9],[-5.05,-1.4],[-4.95,-2.1],[-4.85,-1.2],[-4.6,-0.6],[-4.2,-0.5],[-3.8,-0.4],[-3.4,-0.5],[-3.0,-0.4],[-2.5,-0.3],[-2.0,-0.3],[-1.5,-0.3],[-1.0,-0.2],[-0.5,-0.2],[0,0],[5.2,0],[5.35,-1.5],[5.45,-2.3],[5.55,-1.2],[5.7,-0.8],[6.0,-0.5]];

// ---------- LAYOUT / STYLE ----------
const colors = ["#111111", "#c63b30", "#1f2a8a", "#45dd45"];
const widths = [1.8, 1.5, 1.5, 1.8];

const panels = [
  {xd:[-8.62,4.89], yd:[-20,20], L:70, R:374, T:18.3, B:250.7, ticks:xTickLabelsP1, legX:215, legY:26, legDy:13.8, metal:metalNames[0],
   data:[[re_total_up,re_total_dn],[re_ti_up,re_ti_dn],[re_op_up,re_op_dn],[re_m_up,re_m_dn]]},
  {xd:[-10,5], yd:[-20,20], L:401.7, R:703.2, T:18.3, B:250.7, ticks:xTickLabelsP2, legX:541.7, legY:27, legDy:13.9, metal:metalNames[1],
   data:[[os_total_up,os_total_dn],[os_ti_up,os_ti_dn],[os_op_up,os_op_dn],[os_m_up,os_m_dn]]},
  {xd:[-9,4], yd:[-20,20], L:71, R:373.5, T:280.7, B:512.7, ticks:xTickLabelsP3, legX:226.7, legY:289.3, legDy:13.7, metal:metalNames[2],
   data:[[ir_total_up,ir_total_dn],[ir_ti_up,ir_ti_dn],[ir_op_up,ir_op_dn],[ir_m_up,ir_m_dn]]},
  {xd:[-8,6], yd:[-22,21.9], L:400.7, R:702.1, T:281.7, B:513.3, ticks:xTickLabelsP4, legX:565, legY:290, legDy:13.7, metal:metalNames[3],
   data:[[pt_total_up,pt_total_dn],[pt_ti_up,pt_ti_dn],[pt_op_up,pt_op_dn],[pt_m_up,pt_m_dn]]}
];

const svg = d3.select("#c");
svg.append("rect").attr("width",699).attr("height",575).attr("fill","#fff");

panels.forEach((p,i)=>{
  const x = d3.scaleLinear().domain(p.xd).range([p.L,p.R]);
  const y = d3.scaleLinear().domain(p.yd).range([p.B,p.T]);
  const g = svg.append("g");
  const cid = "clip"+i;
  svg.append("clipPath").attr("id",cid).append("rect")
    .attr("x",p.L).attr("y",p.T).attr("width",p.R-p.L).attr("height",p.B-p.T);

  const minor = d3.range(Math.ceil(p.xd[0]), Math.floor(p.xd[1])+1).filter(v=>Math.abs(v%2)===1);
  const ax = g.append("g").attr("transform",`translate(0,${p.B})`)
    .call(d3.axisBottom(x).tickValues(p.ticks).tickSize(4).tickSizeOuter(0).tickPadding(2).tickFormat(d=>String(d)));
  const axm = g.append("g").attr("transform",`translate(0,${p.B})`)
    .call(d3.axisBottom(x).tickValues(minor).tickSize(2.5).tickSizeOuter(0).tickFormat(""));
  const ay = g.append("g").attr("transform",`translate(${p.L},0)`)
    .call(d3.axisLeft(y).tickValues(yTickLabels).tickSize(4).tickSizeOuter(0).tickPadding(3).tickFormat(d=>String(d)));
  const aym = g.append("g").attr("transform",`translate(${p.L},0)`)
    .call(d3.axisLeft(y).tickValues(yMinorTicks).tickSize(2.5).tickSizeOuter(0).tickFormat(""));
  [ax,axm,ay,aym].forEach(a=>{
    a.select(".domain").remove();
    a.selectAll("line").attr("stroke","#666");
    a.selectAll("text").attr("fill","#333").style("font-size","8px").style("font-family","Arial, 'Liberation Sans', sans-serif");
  });

  g.append("rect").attr("x",p.L).attr("y",p.T).attr("width",p.R-p.L).attr("height",p.B-p.T)
    .attr("fill","none").attr("stroke","#999").attr("stroke-width",1);

  const line = d3.line().x(d=>x(d[0])).y(d=>y(d[1]));
  const plot = g.append("g").attr("clip-path",`url(#${cid})`);
  p.data.forEach((pair,k)=>{
    pair.forEach(arr=>{
      plot.append("path").attr("d",line(arr)).attr("fill","none")
        .attr("stroke",colors[k]).attr("stroke-width",widths[k]).attr("stroke-linejoin","round");
    });
  });

  const labels = seriesNames.concat([p.metal]);
  labels.forEach((lab,k)=>{
    const yy = p.legY + k*p.legDy;
    g.append("line").attr("x1",p.legX).attr("x2",p.legX+25).attr("y1",yy).attr("y2",yy)
      .attr("stroke",colors[k]).attr("stroke-width",1.8);
    g.append("text").attr("x",p.legX+26).attr("y",yy).attr("dy","0.35em")
      .style("font-size","10.5px").style("white-space","pre").attr("fill","#222").text(lab);
  });
});

const yt = svg.append("text").attr("transform","translate(46,276) rotate(-90)")
  .attr("text-anchor","middle").style("font-size","22px").style("font-weight","bold").attr("fill","#111");
yt.append("tspan").text("states [eV");
yt.append("tspan").attr("dy",-8).style("font-size","15px").text("-1");
yt.append("tspan").attr("dy",8).text(" f.u.");
yt.append("tspan").attr("dy",-8).style("font-size","15px").text("-1");
yt.append("tspan").attr("dy",8).text("]");

svg.append("text").attr("x",388).attr("y",555).attr("text-anchor","middle")
  .style("font-size","19.5px").style("font-weight","bold").attr("fill","#111").text("Energy [eV]");
</script></body></html>
